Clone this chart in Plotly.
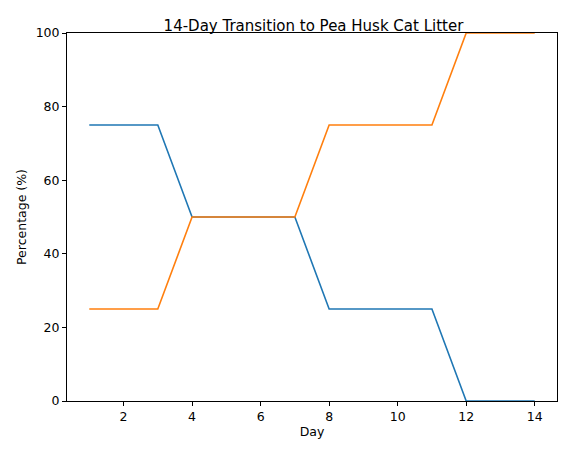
import plotly.graph_objects as go

days = list(range(1, 15))
old_litter = [75, 75, 75, 50, 50, 50, 50, 25, 25, 25, 25, 0, 0, 0]
pea_husk = [25, 25, 25, 50, 50, 50, 50, 75, 75, 75, 75, 100, 100, 100]

fig = go.Figure()
fig.add_trace(go.Scatter(x=days, y=old_litter, mode="lines",
                         line=dict(color="#1f77b4", width=1.6), cliponaxis=False))
fig.add_trace(go.Scatter(x=days, y=pea_husk, mode="lines",
                         line=dict(color="#ff7f0e", width=1.6), cliponaxis=False))

axis_style = dict(showgrid=False, zeroline=False, showline=True, mirror=True,
                  linecolor="black", linewidth=1, ticks="outside", ticklen=4,
                  tickcolor="black", tickfont=dict(size=12.5, color="black"))

# page body adds ~8px offset, so shift margins accordingly
fig.update_layout(
    width=571, height=455,
    margin=dict(l=59, r=22, t=25, b=62),
    paper_bgcolor="white", plot_bgcolor="white",
    showlegend=False,
    font=dict(family="DejaVu Sans", color="black"),
    title=dict(text="14-Day Transition to Pea Husk Cat Litter", x=0.535, xanchor="center",
               y=0.962, yanchor="middle", font=dict(size=15)),
    xaxis=dict(range=[0.35, 14.65], tickvals=[2, 4, 6, 8, 10, 12, 14],
               title=dict(text="Day", font=dict(size=12.5), standoff=4), **axis_style),
    yaxis=dict(range=[0, 100], tickvals=[0, 20, 40, 60, 80, 100],
               title=dict(text="Percentage (%)", font=dict(size=12.5), standoff=6), **axis_style),
)

fig.write_html("out.html")
